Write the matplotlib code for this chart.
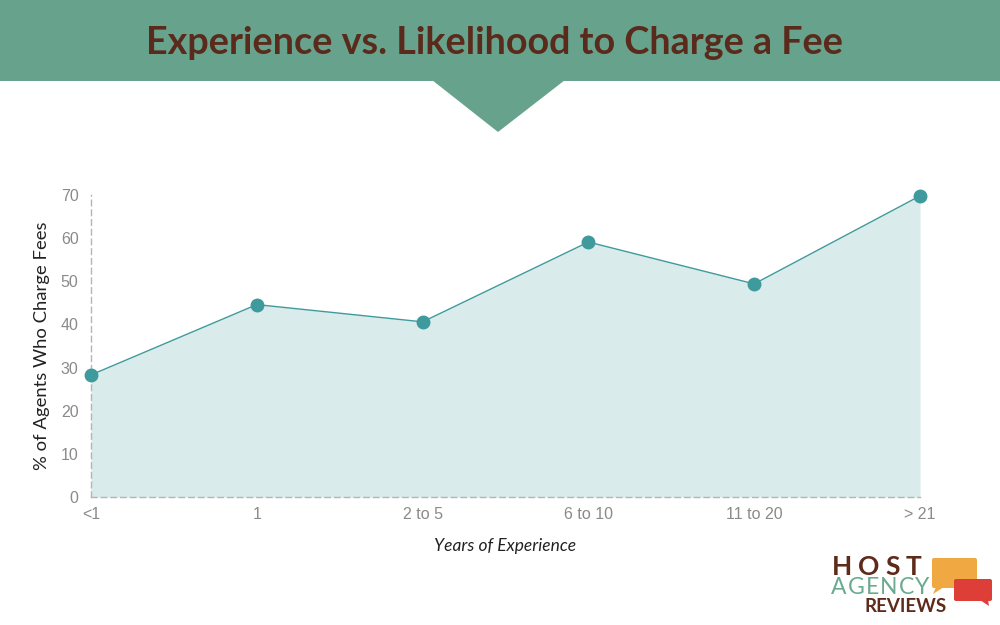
import matplotlib
matplotlib.use("Agg")
import matplotlib.pyplot as plt
from matplotlib.patches import Polygon, Rectangle, FancyBboxPatch

categories = ["<1", "1", "2 to 5", "6 to 10", "11 to 20", "> 21"]
values = [28.3, 44.6, 40.6, 59.1, 49.4, 69.8]
yticks = [0, 10, 20, 30, 40, 50, 60, 70]

title = "Experience vs. Likelihood to Charge a Fee"
xlabel = "Years of Experience"
ylabel = "% of Agents Who Charge Fees"

plt.rcParams['font.family'] = ['Lato', 'DejaVu Sans']

fig = plt.figure(figsize=(10, 6.25), dpi=100)
W, H = 1000, 625

# header band
band = fig.add_axes([0, 0, 1, 1], zorder=0)
band.set_xlim(0, W); band.set_ylim(H, 0); band.axis('off')
hdr = "#67a38c"
band.add_patch(Rectangle((0, 0), W, 81, color=hdr, lw=0))
band.add_patch(Polygon([(432, 80), (565, 80), (498, 132)], closed=True, color=hdr, lw=0))
band.text(495, 43, title, ha='center', va='center', fontsize=27.2, fontweight='bold', color="#5a2a1c")

# logo
band.add_patch(FancyBboxPatch((932, 558), 45, 30, boxstyle="round,pad=0,rounding_size=2", color="#f0a843", lw=0))
band.add_patch(Polygon([(936, 587), (944, 587), (933, 594)], closed=True, color="#f0a843", lw=0))
band.add_patch(FancyBboxPatch((954, 579), 38, 22, boxstyle="round,pad=0,rounding_size=2", color="#dd3f38", lw=0))
band.add_patch(Polygon([(980, 600), (988, 600), (989, 606)], closed=True, color="#dd3f38", lw=0))

renderer = fig.canvas.get_renderer()


def spaced(text, x0, y, track, **kw):
    xx = x0
    for ch in text:
        t = band.text(xx, y, ch, ha='left', va='center', **kw)
        w = t.get_window_extent(renderer).width
        xx += w + track


spaced("HOST", 832, 567, 6, fontsize=19, fontweight='bold', color="#5e2a1a")
spaced("AGENCY", 831, 588, 1.2, fontsize=16.5, color="#6aaa8e")
band.text(865, 607, "REVIEWS", ha='left', va='center', fontsize=13.5, fontweight='bold', color="#5e2a1a")

ax = fig.add_axes([0.091, 1 - 497 / H, 0.829, (497 - 195) / H], zorder=2)
ax.patch.set_alpha(0)
x = list(range(len(categories)))
line_c = "#3e9a9c"
ax.fill_between(x, values, 0, color="#d9ebea", lw=0)
ax.plot(x, values, color=line_c, lw=1, marker='o', markersize=9, clip_on=False, zorder=5)
ax.set_xlim(0, len(categories) - 1)
ax.set_ylim(0, 70)
ax.set_yticks(yticks)
ax.set_xticks(x)
ax.set_xticklabels(categories)
for s in ['top', 'right']:
    ax.spines[s].set_visible(False)
for s in ['left', 'bottom']:
    ax.spines[s].set_color("#b5b5b5")
    ax.spines[s].set_linestyle((0, (4, 3)))
    ax.spines[s].set_linewidth(1)
ax.tick_params(length=0, colors="#8a8a8a", labelsize=11.5)
for lab in ax.get_xticklabels() + ax.get_yticklabels():
    lab.set_family(['Liberation Sans', 'DejaVu Sans'])
ax.tick_params(axis='y', pad=9)
ax.tick_params(axis='x', pad=7)
ax.set_xlabel(xlabel, fontsize=12.5, style='italic', color="#222222", labelpad=12)
ax.set_ylabel(ylabel, fontsize=13.3, color="#222222", labelpad=8)

fig.savefig("out.png", dpi=100)
